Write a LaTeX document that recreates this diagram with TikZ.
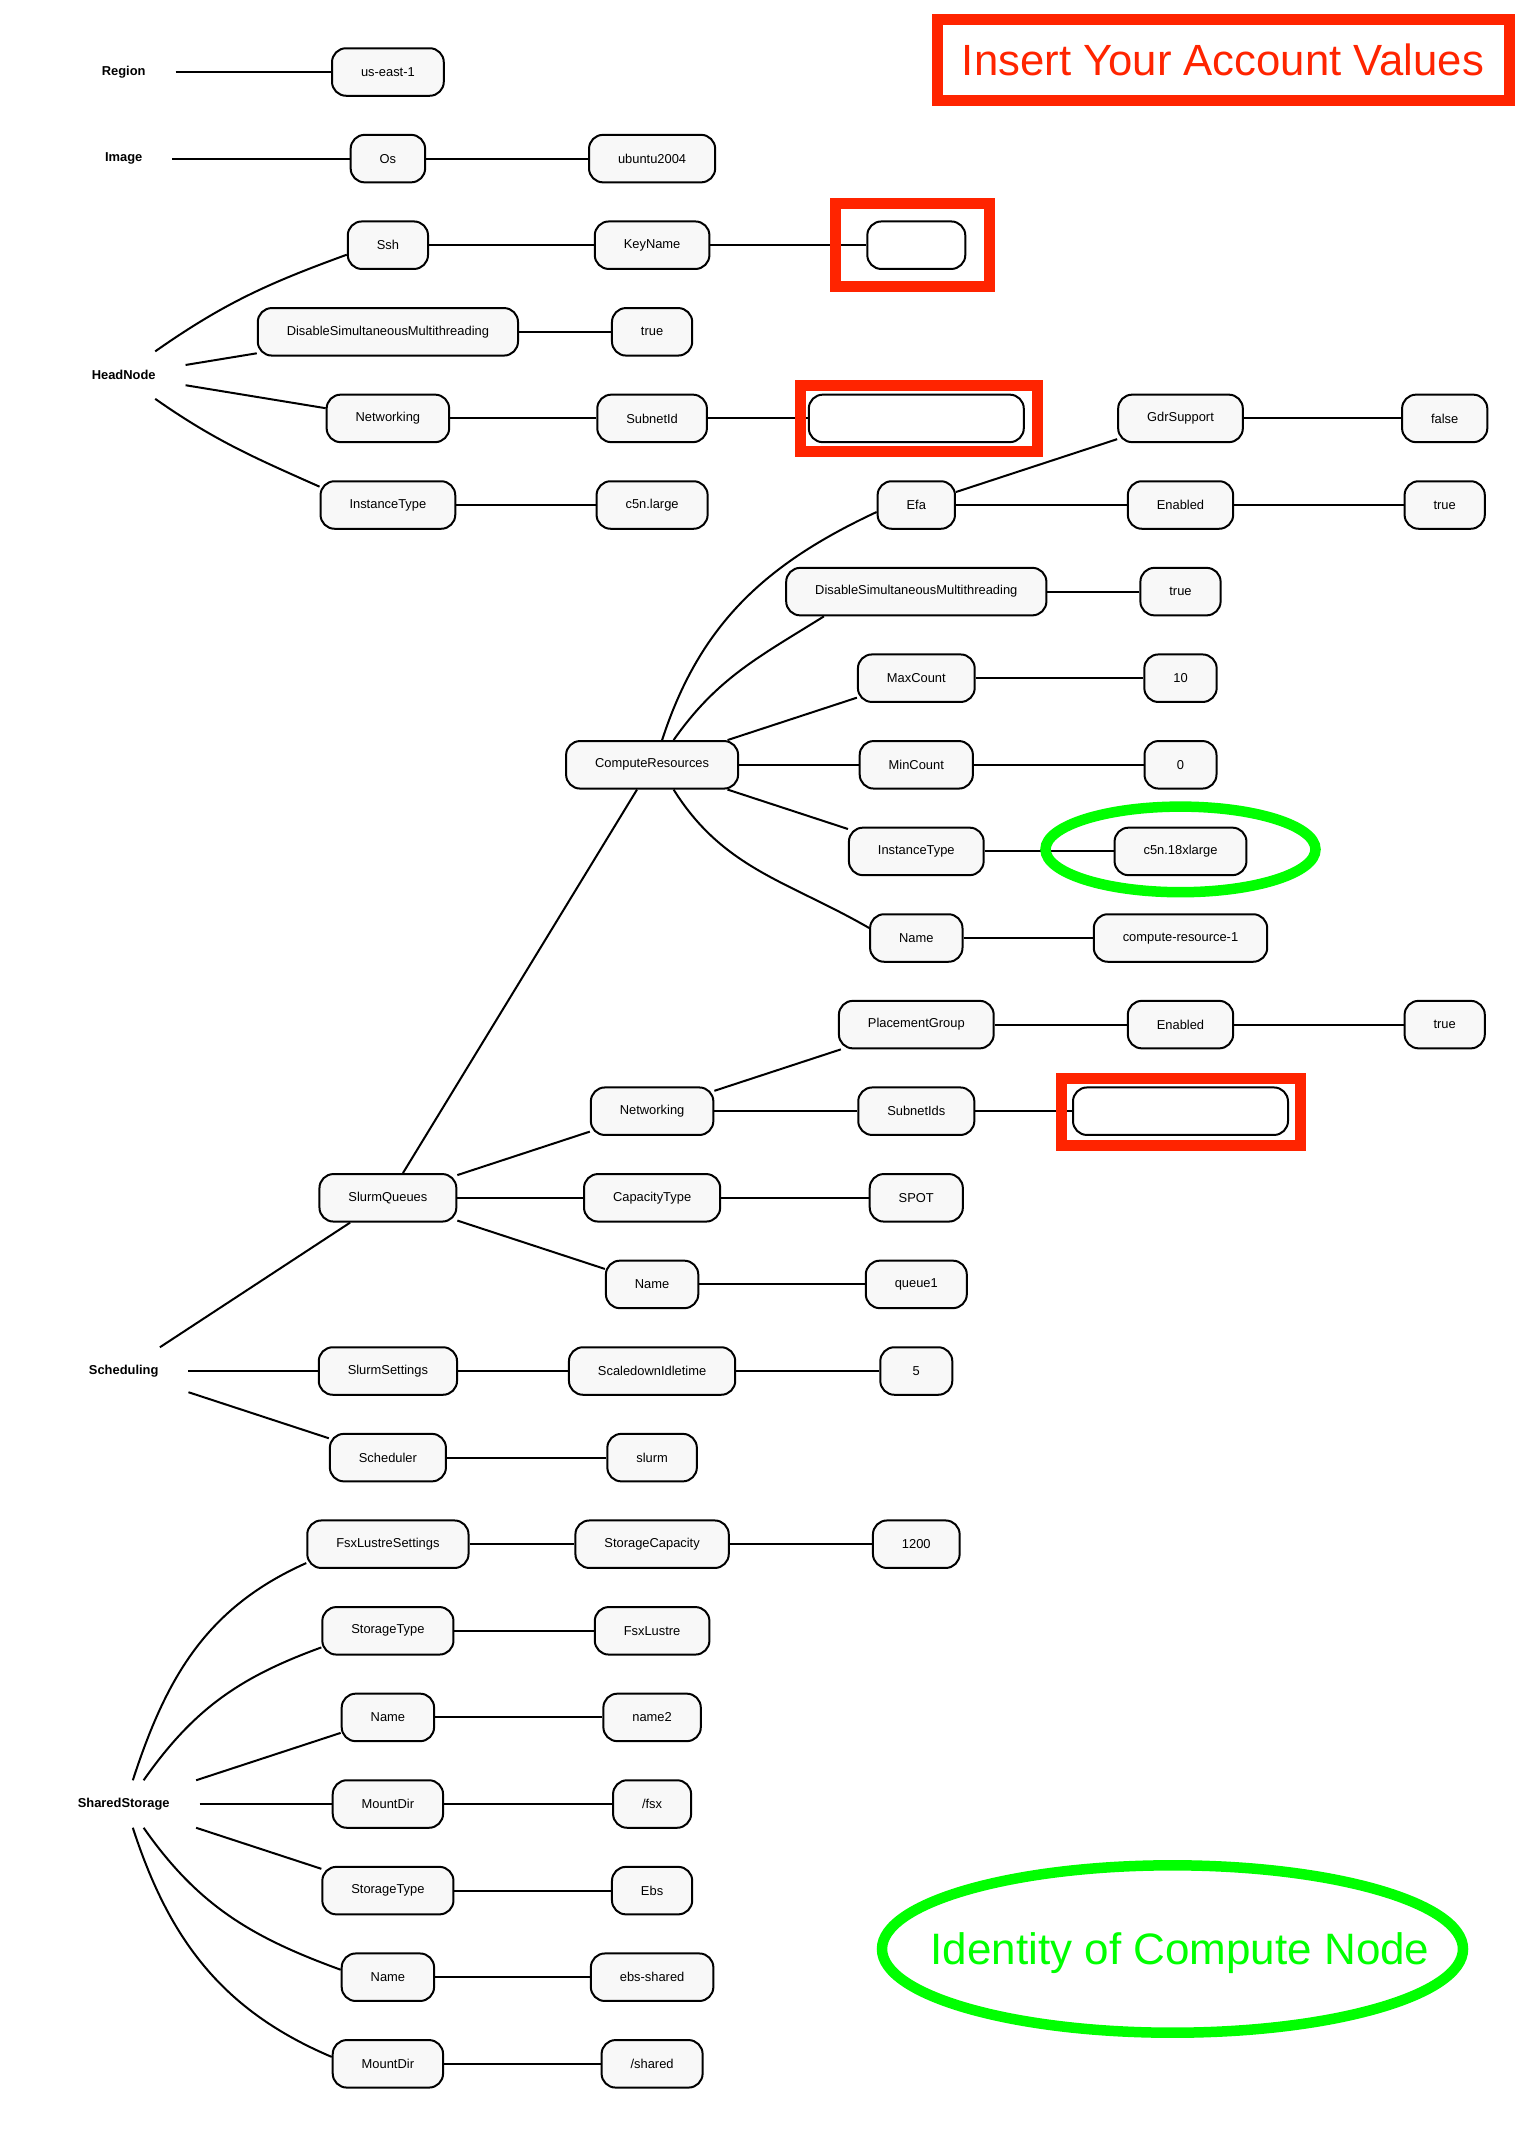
\documentclass[tikz,border=0pt]{standalone}
\usepackage{fontspec}
\setmainfont{Liberation Sans}
\usetikzlibrary{positioning, fit, shapes.geometric}
\definecolor{red1}{RGB}{255,36,0}
\definecolor{green1}{RGB}{0,255,0}
\definecolor{gray5}{RGB}{248,248,248}

\begin{document}
\begin{tikzpicture}[x=264.2pt, y=86.6pt, node distance=86.6pt and 264.2pt, on grid]

\tikzstyle{field}		=[rectangle, rounded corners=14pt, draw=black, line width=2pt, fill=gray5, inner xsep=29pt, minimum height=47.5pt, minimum width=72pt, text centered]
\tikzstyle{blank}		=[field, fill=white]
\tikzstyle{root}		=[rectangle, inner xsep=30pt, minimum height=47.5pt, outer sep=0pt, font=\bfseries]
\tikzstyle{connection}	=[line width=2pt, draw=black]
\tikzstyle{redmark}		=[rectangle, draw=red1, line width=11pt]
\tikzstyle{greenmark}	=[ellipse, draw=green1, line width=10.5pt]
\fontsize{12.9}{15}\selectfont

\useasboundingbox (-123.7pt,72pt) rectangle (1412.3pt,-2065pt);

% Region, Image
\node[root] 				(reg) at (0,0)		{Region};
\node[field, right=of reg] 	(regv) 			{us-east-1};
\node[root] 				(img) at (0,-1)		{Image};
\node[field, right=of img] 	(os) 			{Os};
\node[field, right=of os] 	(osv) 			{ubuntu2004};

% HeadNode
\node[root] 				(hn) at (0,-3.5)	{HeadNode};
\node[field] 				(ssh) at (1,-2)		{Ssh};
\node[field, right=of ssh] 	(key) 			{KeyName};
\node[blank, minimum width=98pt, right=of key] 	(keyv) 	{};
\node[field] 				(hsmt) at (1,-3)	{DisableSimultaneousMultithreading};
\node[field, right=of hsmt] (hsmtv) 			{true};
\node[field] 				(hnet) at (1,-4)	{Networking};
\node[field, right=of hnet] (hsub) 			{SubnetId};
\node[blank, minimum width=215pt, right=of hsub] 	(hsubv) 	{};
\node[field] 				(hit) at (1,-5)		{InstanceType};
\node[field, right=of hit] 	(hitv) 			{c5n.large};

% Scheduling
\node[root] 				(sch) at (0,-15)	{Scheduling};
\node[field] 				(sq) at (1,-13)		{SlurmQueues};
\node[field] 				(cr) at (2,-8)		{ComputeResources};
\node[field] 				(efa) at (3,-5)		{Efa};
\node[field, right=of efa] 	(efaen) 			{Enabled};
\node[field, right=of efaen] (efaenv) 		{true};
\node[field, above=of efaen] (gdr) 			{GdrSupport};
\node[field, right=of gdr] 	(gdrv) 			{false};
\node[field, below=of efa] 	(csmt) 			{DisableSimultaneousMultithreading};
\node[field, right=of csmt] (csmtv) 			{true};
\node[field, below=of csmt] (max) 			{MaxCount};
\node[field, right=of max] 	(maxv) 			{10};
\node[field, right=of cr] 	(min) 			{MinCount};
\node[field, right=of min] 	(minv) 			{0};
\node[field, below=of min] 	(cit) 			{InstanceType};
\node[field, right=of cit] 	(citv) 			{c5n.18xlarge};
\node[field, below=of cit] 	(crn) 			{Name};
\node[field, right=of crn] 	(crnv) 			{compute-resource-1};
\node[field, below=of crn] 	(pg) 			{PlacementGroup};
\node[field, right=of pg] 	(pgen) 			{Enabled};
\node[field, right=of pgen] (pgenv) 			{true};
\node[field] 				(qnet) at (2,-12)	{Networking};
\node[field, right=of qnet] (sub) 			{SubnetIds};
\node[blank, minimum width=215pt, right=of sub] 	(subv) 	{};
\node[field, right=of sq] 	(cap) 			{CapacityType};
\node[field, right=of cap] 	(capv) 			{SPOT};
\node[field, below=of cap] 	(qn) 			{Name};
\node[field, right=of qn] 	(qnv) 			{queue1};
\node[field, right=of sch] 	(ss) 			{SlurmSettings};
\node[field, right=of ss] 	(sdi) 			{ScaledownIdletime};
\node[field, right=of sdi] 	(sdiv) 			{5};
\node[field, below=of ss] 	(sched) 			{Scheduler};
\node[field, right=of sched] (schedv) 		{slurm};

% SharedStorage
\node[root] 				(sst) at (0,-20)	{SharedStorage};
\node[field] 				(fls) at (1,-17)	{FsxLustreSettings};
\node[field, right=of fls] 	(scap) 			{StorageCapacity};
\node[field, right=of scap] (scapv) 			{1200};
\node[field, below=of fls] 	(st1) 			{StorageType};
\node[field, right=of st1] 	(st1v) 			{FsxLustre};
\node[field, below=of st1] 	(n1) 			{Name};
\node[field, right=of n1] 	(n1v) 			{name2};
\node[field, below=of n1] 	(md1) 			{MountDir};
\node[field, right=of md1] 	(md1v) 			{/fsx};
\node[field, below=of md1] 	(st2) 			{StorageType};
\node[field, right=of st2] 	(st2v) 			{Ebs};
\node[field, below=of st2] 	(n2) 			{Name};
\node[field, right=of n2] 	(n2v) 			{ebs-shared};
\node[field, below=of n2] 	(md2) 			{MountDir};
\node[field, right=of md2] 	(md2v) 			{/shared};

\draw [connection]  (reg) -- (regv);
\draw [connection]  (img) -- (os);
\draw [connection]  (os) -- (osv);

\draw [connection]  (hn.37) to[out=35, in=200] (ssh.193);
\draw [connection]  (hn) -- (hsmt);
\draw [connection]  (hn) -- (hnet);
\draw [connection]  (hn.-37) to[out=-35, in=156] (hit.165);
\draw [connection]  (ssh) -- (key);
\draw [connection]  (key) -- (keyv);
\draw [connection]  (hsmt) -- (hsmtv);
\draw [connection]  (hnet) -- (hsub);
\draw [connection]  (hsub) -- (hsubv);
\draw [connection]  (hit) -- (hitv);

\draw [connection]  (sch) -- (sq);
\draw [connection]  (sch) -- (ss);
\draw [connection]  (sch) -- (sched);
\draw [connection]  (sq) -- (cr);
\draw [connection]  (sq) -- (qnet);
\draw [connection]  (sq) -- (cap);
\draw [connection]  (sq) -- (qn);

\draw [connection]  (cr.68) to[out=72, in=205] (efa.190);
\draw [connection]  (cr.49) to[out=55, in=212] (csmt.195);
\draw [connection]  (cr) -- (max);
\draw [connection]  (cr) -- (min);
\draw [connection]  (cr) -- (cit);
\draw [connection]  (cr.-49) to[out=-58, in=150] (crn.168);
\draw [connection]  (efa) -- (gdr);
\draw [connection]  (efa) -- (efaen);
\draw [connection]  (gdr) -- (gdrv);
\draw [connection]  (efaen) -- (efaenv);
\draw [connection]  (csmt) -- (csmtv);
\draw [connection]  (max) -- (maxv);
\draw [connection]  (min) -- (minv);
\draw [connection]  (cit) -- (citv);
\draw [connection]  (crn) -- (crnv);

\draw [connection]  (qnet) -- (pg);
\draw [connection]  (qnet) -- (sub);
\draw [connection]  (pg) -- (pgen);
\draw [connection]  (pgen) -- (pgenv);
\draw [connection]  (sub) -- (subv);
\draw [connection]  (cap) -- (capv);
\draw [connection]  (qn) -- (qnv);
\draw [connection]  (ss) -- (sdi);
\draw [connection]  (sdi) -- (sdiv);
\draw [connection]  (sched) -- (schedv);

\draw [connection]  (sst.69) to[out=72, in=204] (fls.193);
\draw [connection]  (sst.50) to[out=55, in=200] (st1.194);
\draw [connection]  (sst) -- (n1);
\draw [connection]  (sst) -- (md1);
\draw [connection]  (sst) -- (st2);
\draw [connection]  (sst.-50) to[out=-55, in=160] (n2.171);
\draw [connection]  (sst.-69) to[out=-72, in=157] (md2.173);
\draw [connection]  (fls) -- (scap);
\draw [connection]  (scap) -- (scapv);
\draw [connection]  (st1) -- (st1v);
\draw [connection]  (n1) -- (n1v);
\draw [connection]  (md1) -- (md1v);
\draw [connection]  (st2) -- (st2v);
\draw [connection]  (n2) -- (n2v);
\draw [connection]  (md2) -- (md2v);

% marks
\node[redmark, fit=(keyv), inner xsep=27pt, inner ysep=17pt, xshift=-4pt] 	(keymark) 	{};
\node[redmark, fit=(hsubv), inner xsep=10pt, inner ysep=8.5pt, xshift=3pt] 	(hsubmark) 	{};
\node[redmark, fit=(subv), inner xsep=11pt, inner ysep=9pt, yshift=-1pt] 	(submark) 	{};
\node[greenmark, minimum width=270pt, minimum height=85.6pt, yshift=2pt] 	(citmark) at (citv) {};

\node[redmark, text=red1, minimum width=572pt, minimum height=81pt, font=\fontsize{43.7}{50}\selectfont] 	(title) at (1099.3pt,12.5pt) 	{Insert Your Account Values};
\node[greenmark, minimum width=581pt, minimum height=167.4pt, label={[text=green1, text depth=0pt, xshift=7.5pt, font=\fontsize{44}{50}\selectfont]center:Identity of Compute Node}] 	(ident) at (1048.8pt,-1877pt) 	{};

\end{tikzpicture}
\end{document}
